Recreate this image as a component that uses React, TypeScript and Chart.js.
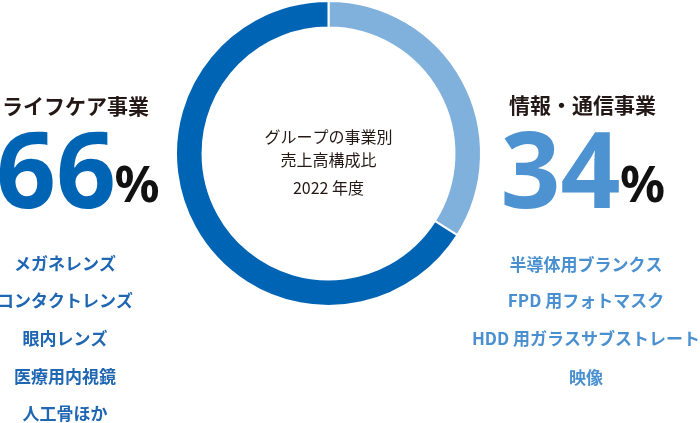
import React, { useEffect, useRef } from "react";
import { Chart, registerables } from "chart.js";

Chart.register(...registerables);

const segments = ["情報・通信事業", "ライフケア事業"];
const shares = [34, 66];
const segmentColors = ["#80b1dc", "#0064b5"];
const centerLines = ["グループの事業別", "売上高構成比", "2022 年度"];
const leftItems = ["メガネレンズ", "コンタクトレンズ", "眼内レンズ", "医療用内視鏡", "人工骨ほか"];
const rightItems = ["半導体用ブランクス", "FPD 用フォトマスク", "HDD 用ガラスサブストレート", "映像"];

const JP = '"Noto Sans CJK JP", "Noto Sans", sans-serif';
const NUM = '"Noto Sans", "Noto Sans CJK JP", sans-serif';

const textPlugin = {
  id: "sideTexts",
  afterDraw(chart: any) {
    const ctx = chart.ctx as CanvasRenderingContext2D;
    ctx.save();
    ctx.textAlign = "center";
    ctx.textBaseline = "alphabetic";

    // center texts
    ctx.fillStyle = "#231815";
    ctx.font = `16px ${JP}`;
    ctx.fillText(centerLines[0], 328.5, 143);
    ctx.fillText(centerLines[1], 328.5, 165.5);
    ctx.fillText(centerLines[2], 328.5, 193.5);

    // headings
    ctx.font = `bold 21px ${JP}`;
    ctx.fillText(segments[1], 75.5, 113.5);
    ctx.fillText(segments[0], 582.5, 113);

    // big numbers
    ctx.font = `bold 105px ${NUM}`;
    ctx.fillStyle = "#0064b5";
    ctx.fillText(String(shares[1]), 56, 208);
    ctx.fillStyle = "#4d93d1";
    ctx.fillText(String(shares[0]), 560.5, 208);

    ctx.font = `bold 50px ${NUM}`;
    ctx.fillStyle = "#111111";
    ctx.fillText("%", 137, 202);
    ctx.fillText("%", 642.5, 202);

    // item lists
    ctx.font = `bold 17px ${JP}`;
    const leftY = [263, 300, 338, 376, 413];
    ctx.fillStyle = "#1f66b3";
    leftItems.forEach((t, i) => ctx.fillText(t, 65, leftY[i] + 6.5));
    const rightY = [264, 300, 338, 377];
    ctx.fillStyle = "#4a90d0";
    rightItems.forEach((t, i) => ctx.fillText(t, 586, rightY[i] + 6.5));

    ctx.restore();
  },
};

export default function App() {
  const ref = useRef<HTMLCanvasElement | null>(null);
  useEffect(() => {
    if (!ref.current) return;
    const chart = new Chart(ref.current, {
      type: "doughnut",
      data: {
        labels: segments,
        datasets: [
          {
            data: shares,
            backgroundColor: segmentColors,
            borderColor: "#ffffff",
            borderWidth: 2,
            hoverBorderWidth: 2,
          },
        ],
      },
      options: {
        animation: false,
        responsive: true,
        maintainAspectRatio: false,
        cutout: "82.6%",
        layout: { padding: { left: 175, right: 218, top: 0, bottom: 116 } },
        plugins: {
          legend: { display: false },
          tooltip: { enabled: false },
        },
      },
      plugins: [textPlugin],
    });
    return () => chart.destroy();
  }, []);
  return (
    <div style={{ position: "fixed", left: 0, top: 0, width: 700, height: 423, background: "#ffffff" }}>
      <canvas ref={ref} />
    </div>
  );
}
